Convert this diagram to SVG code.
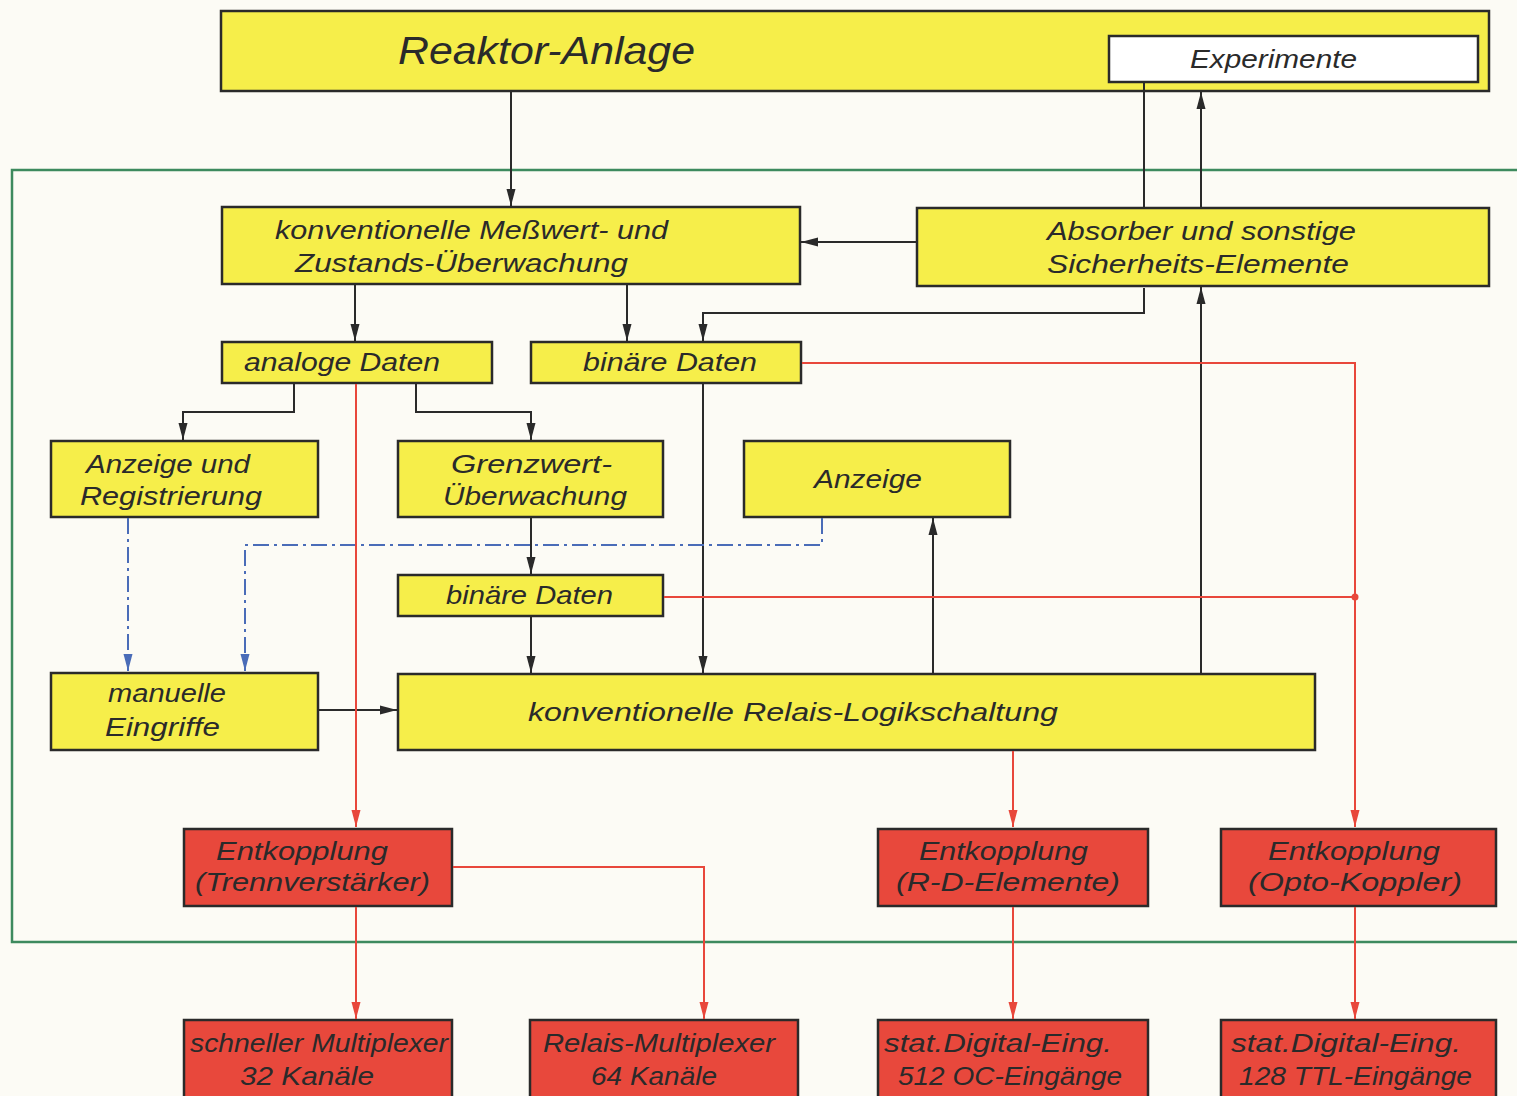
<svg xmlns="http://www.w3.org/2000/svg" width="1517" height="1096" viewBox="0 0 1517 1096">
<style>
.y{fill:#f6ee4a;stroke:#2a2a2a;stroke-width:2.5}
.r{fill:#e8483c;stroke:#2a2a2a;stroke-width:2.5}
.w{fill:#ffffff;stroke:#2a2a2a;stroke-width:2.5}
text{font-family:"Liberation Sans","DejaVu Sans",sans-serif;font-style:italic;font-size:26px;fill:#2a2a2a}
.big{font-size:38px}
.k{fill:none;stroke:#2a2a2a;stroke-width:2}
.rl{fill:none;stroke:#e8473b;stroke-width:2}
.bl{fill:none;stroke:#4a6cb8;stroke-width:2;stroke-dasharray:16,5,3,5}
.g{fill:none;stroke:#3d8a5e;stroke-width:2.5}
</style>
<defs>
<marker id="ak" markerUnits="userSpaceOnUse" markerWidth="18" markerHeight="10" refX="17" refY="5" orient="auto"><path d="M0,0.5 L17,5 L0,9.5 z" fill="#2a2a2a"/></marker>
<marker id="ar" markerUnits="userSpaceOnUse" markerWidth="18" markerHeight="10" refX="17" refY="5" orient="auto"><path d="M0,0.5 L17,5 L0,9.5 z" fill="#e8473b"/></marker>
<marker id="ab" markerUnits="userSpaceOnUse" markerWidth="18" markerHeight="10" refX="17" refY="5" orient="auto"><path d="M0,0.5 L17,5 L0,9.5 z" fill="#4a6cb8"/></marker>
</defs>
<rect width="1517" height="1096" fill="#fcfbf5"/>
<path class="g" d="M1517,170 H12 V942 H1517"/>

<g id="reaktor"><rect class="y" x="221" y="11" width="1268" height="80"/><text class="big" x="398" y="64" textLength="297" lengthAdjust="spacingAndGlyphs">Reaktor-Anlage</text></g>
<g id="experimente"><rect class="w" x="1109" y="36" width="369" height="46"/><text x="1190" y="68" textLength="167" lengthAdjust="spacingAndGlyphs">Experimente</text></g>
<g id="messwert"><rect class="y" x="222" y="207" width="578" height="77"/><text x="275" y="239" textLength="393" lengthAdjust="spacingAndGlyphs">konventionelle Meßwert- und</text><text x="295" y="272" textLength="333" lengthAdjust="spacingAndGlyphs">Zustands-Überwachung</text></g>
<g id="absorber"><rect class="y" x="917" y="208" width="572" height="78"/><text x="1047" y="240" textLength="309" lengthAdjust="spacingAndGlyphs">Absorber und sonstige</text><text x="1047" y="273" textLength="302" lengthAdjust="spacingAndGlyphs">Sicherheits-Elemente</text></g>
<g id="analog"><rect class="y" x="222" y="342" width="270" height="41"/><text x="244" y="371" textLength="196" lengthAdjust="spacingAndGlyphs">analoge Daten</text></g>
<g id="binaer1"><rect class="y" x="531" y="342" width="270" height="41"/><text x="583" y="371" textLength="174" lengthAdjust="spacingAndGlyphs">binäre Daten</text></g>
<g id="anzreg"><rect class="y" x="51" y="441" width="267" height="76"/><text x="86" y="473" textLength="164" lengthAdjust="spacingAndGlyphs">Anzeige und</text><text x="80" y="505" textLength="182" lengthAdjust="spacingAndGlyphs">Registrierung</text></g>
<g id="grenzwert"><rect class="y" x="398" y="441" width="265" height="76"/><text x="451" y="473" textLength="161" lengthAdjust="spacingAndGlyphs">Grenzwert-</text><text x="443" y="505" textLength="184" lengthAdjust="spacingAndGlyphs">Überwachung</text></g>
<g id="anzeige"><rect class="y" x="744" y="441" width="266" height="76"/><text x="814" y="488" textLength="108" lengthAdjust="spacingAndGlyphs">Anzeige</text></g>
<g id="binaer2"><rect class="y" x="398" y="575" width="265" height="41"/><text x="446" y="604" textLength="167" lengthAdjust="spacingAndGlyphs">binäre Daten</text></g>
<g id="manuell"><rect class="y" x="51" y="673" width="267" height="77"/><text x="108" y="702" textLength="118" lengthAdjust="spacingAndGlyphs">manuelle</text><text x="105" y="736" textLength="115" lengthAdjust="spacingAndGlyphs">Eingriffe</text></g>
<g id="relais"><rect class="y" x="398" y="674" width="917" height="76"/><text x="528" y="721" textLength="530" lengthAdjust="spacingAndGlyphs">konventionelle  Relais-Logikschaltung</text></g>
<g id="ent1"><rect class="r" x="184" y="829" width="268" height="77"/><text x="216" y="860" textLength="172" lengthAdjust="spacingAndGlyphs">Entkopplung</text><text x="195" y="891" textLength="235" lengthAdjust="spacingAndGlyphs">(Trennverstärker)</text></g>
<g id="ent2"><rect class="r" x="878" y="829" width="270" height="77"/><text x="919" y="860" textLength="169" lengthAdjust="spacingAndGlyphs">Entkopplung</text><text x="896" y="891" textLength="224" lengthAdjust="spacingAndGlyphs">(R-D-Elemente)</text></g>
<g id="ent3"><rect class="r" x="1221" y="829" width="275" height="77"/><text x="1268" y="860" textLength="172" lengthAdjust="spacingAndGlyphs">Entkopplung</text><text x="1248" y="891" textLength="214" lengthAdjust="spacingAndGlyphs">(Opto-Koppler)</text></g>
<g id="mux1"><rect class="r" x="184" y="1020" width="268" height="90"/><text x="190" y="1052" textLength="258" lengthAdjust="spacingAndGlyphs">schneller Multiplexer</text><text x="240" y="1085" textLength="134" lengthAdjust="spacingAndGlyphs">32 Kanäle</text></g>
<g id="mux2"><rect class="r" x="530" y="1020" width="268" height="90"/><text x="543" y="1052" textLength="232" lengthAdjust="spacingAndGlyphs">Relais-Multiplexer</text><text x="591" y="1085" textLength="126" lengthAdjust="spacingAndGlyphs">64 Kanäle</text></g>
<g id="dig1"><rect class="r" x="878" y="1020" width="270" height="90"/><text x="884" y="1052" textLength="228" lengthAdjust="spacingAndGlyphs">stat.Digital-Eing.</text><text x="898" y="1085" textLength="224" lengthAdjust="spacingAndGlyphs">512 OC-Eingänge</text></g>
<g id="dig2"><rect class="r" x="1221" y="1020" width="275" height="90"/><text x="1231" y="1052" textLength="230" lengthAdjust="spacingAndGlyphs">stat.Digital-Eing.</text><text x="1239" y="1085" textLength="233" lengthAdjust="spacingAndGlyphs">128 TTL-Eingänge</text></g>

<g id="connectors">
<path class="k" d="M511,92 V206" marker-end="url(#ak)"/>
<path class="k" d="M1144,83 V207"/>
<path class="k" d="M1201,207 V92" marker-end="url(#ak)"/>
<path class="k" d="M916,242 H801" marker-end="url(#ak)"/>
<path class="k" d="M1144,288 V313 H703 V341" marker-end="url(#ak)"/>
<path class="k" d="M1201,673 V287" marker-end="url(#ak)"/>
<path class="k" d="M355,285 V341" marker-end="url(#ak)"/>
<path class="k" d="M627,285 V341" marker-end="url(#ak)"/>
<path class="k" d="M294,384 V412 H183 V440" marker-end="url(#ak)"/>
<path class="k" d="M416,384 V412 H531 V440" marker-end="url(#ak)"/>
<path class="k" d="M703,384 V673" marker-end="url(#ak)"/>
<path class="k" d="M531,518 V574" marker-end="url(#ak)"/>
<path class="k" d="M531,617 V673" marker-end="url(#ak)"/>
<path class="k" d="M319,710 H397" marker-end="url(#ak)"/>
<path class="k" d="M933,673 V518" marker-end="url(#ak)"/>
<path class="bl" d="M128,518 V671" marker-end="url(#ab)"/>
<path class="bl" d="M822,518 V545 H245 V671" marker-end="url(#ab)"/>
<path class="rl" d="M356,384 V827" marker-end="url(#ar)"/>
<path class="rl" d="M802,363 H1355 V827" marker-end="url(#ar)"/>
<path class="rl" d="M664,597 H1355"/>
<circle cx="1355" cy="597" r="3.5" fill="#e8473b"/>
<path class="rl" d="M1013,751 V827" marker-end="url(#ar)"/>
<path class="rl" d="M356,907 V1019" marker-end="url(#ar)"/>
<path class="rl" d="M453,867 H704 V1019" marker-end="url(#ar)"/>
<path class="rl" d="M1013,907 V1019" marker-end="url(#ar)"/>
<path class="rl" d="M1355,907 V1019" marker-end="url(#ar)"/>
</g>
</svg>
